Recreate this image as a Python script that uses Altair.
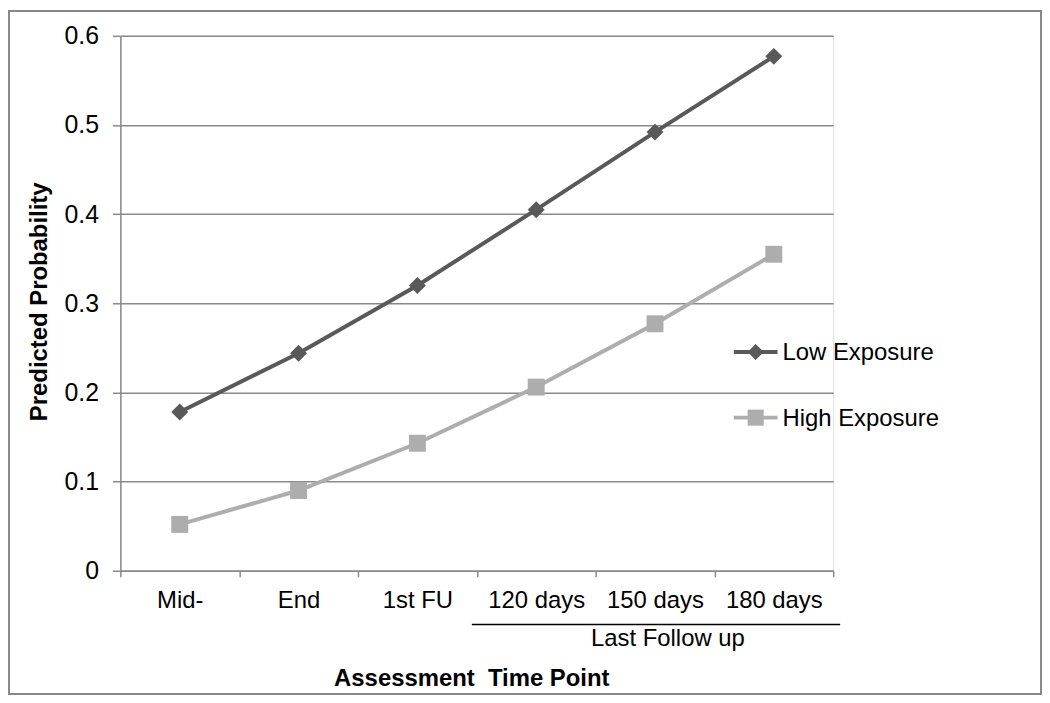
import altair as alt
import pandas as pd

timepoints = ["Mid-", "End", "1st FU", "120 days", "150 days", "180 days"]
low_exposure = [0.178, 0.244, 0.320, 0.405, 0.492, 0.577]
high_exposure = [0.052, 0.090, 0.143, 0.206, 0.277, 0.355]
series = ["Low Exposure", "High Exposure"]
colors = ["#595959", "#ADADAD"]
shapes = ["diamond", "square"]
y_ticks = [0, 0.1, 0.2, 0.3, 0.4, 0.5, 0.6]
group_label = ["Last Follow up"]
group_members = ["120 days", "180 days"]
group_center = ["150 days"]

rows = []
for s, vals in zip(series, [low_exposure, high_exposure]):
    for t, v in zip(timepoints, vals):
        rows.append({"time": t, "prob": v, "series": s})
df = pd.DataFrame(rows)

FONT = "Liberation Sans"
GRID = "#8a8a8a"

x_scale = alt.Scale(type="band", domain=timepoints, paddingInner=0, paddingOuter=0)
y_scale = alt.Scale(domain=[0, 0.6], nice=False, zero=True)
color_scale = alt.Scale(domain=series, range=colors)
shape_scale = alt.Scale(domain=series, range=shapes)

x_axis = alt.Axis(
    title="Assessment\u00a0\u00a0Time Point", tickBand="extent", labelAngle=0,
    labelFontSize=24, labelFont=FONT, labelColor="#000000", labelPadding=12,
    tickSize=6, tickColor=GRID, tickWidth=1.5, domainColor=GRID, domainWidth=1.5,
    grid=False, titleFont=FONT, titleFontSize=24, titleFontWeight="bold",
    titleColor="#000000", titleX=353, titleY=115, titleBaseline="alphabetic",
    titleAlign="center",
)
x_enc = alt.X("time:N", sort=timepoints, scale=x_scale, bandPosition=0.5, axis=x_axis)
y_enc = alt.Y(
    "prob:Q", scale=y_scale,
    axis=alt.Axis(
        title="Predicted Probability", values=y_ticks, format=".1~f",
        labelFontSize=25, labelFont=FONT, labelColor="#000000", labelPadding=14,
        tickSize=8, tickColor=GRID, tickWidth=1.5, domainColor=GRID, domainWidth=1.5,
        grid=True, gridColor=GRID, gridWidth=1.5,
        titleFont=FONT, titleFontSize=24, titleFontWeight="bold", titleColor="#000000",
        titleAngle=270, titleX=-81, titleY=267, titleBaseline="middle", titleAlign="center",
    ),
)

base = alt.Chart(df)

lines = base.mark_line(strokeWidth=4).encode(
    x=x_enc, y=y_enc,
    color=alt.Color("series:N", scale=color_scale, legend=None),
    detail="series:N",
)
points = base.mark_point(filled=True, size=290, opacity=1).encode(
    x=x_enc, y=y_enc,
    color=alt.Color("series:N", scale=color_scale, legend=None),
    shape=alt.Shape("series:N", scale=shape_scale, legend=None),
)

grp_rule_df = pd.DataFrame({"time": [group_members[0]], "time_end": [group_members[1]]})
grp_rule = alt.Chart(grp_rule_df).mark_rule(color="#000000", strokeWidth=1.5, xOffset=-5, x2Offset=7).encode(
    x=alt.X("time:N", scale=x_scale, bandPosition=0, axis=x_axis),
    x2=alt.X2("time_end:N", bandPosition=1),
    y=alt.value(592),
)
grp_text_df = pd.DataFrame({"time": group_center, "label": group_label})
grp_text = alt.Chart(grp_text_df).mark_text(
    font=FONT, fontSize=24, color="#000000", baseline="alphabetic", dx=13
).encode(
    x=alt.X("time:N", scale=x_scale, bandPosition=0.5, axis=x_axis),
    y=alt.value(614),
    text="label:N",
)

# manual legend (layout positions in pixels)
legend_layers = []
LEG_X0, LEG_X1, LEG_TEXT_X = 617, 661, 666
LEG_Y = [318, 384]
for name, col, shp, ly in zip(series, colors, shapes, LEG_Y):
    ldf = pd.DataFrame({"label": [name]})
    lb = alt.Chart(ldf)
    legend_layers.append(
        lb.mark_rule(strokeWidth=4, color=col).encode(
            x=alt.value(LEG_X0), x2=alt.value(LEG_X1), y=alt.value(ly)
        )
    )
    legend_layers.append(
        lb.mark_point(filled=True, opacity=1, size=260, color=col, shape=shp).encode(
            x=alt.value((LEG_X0 + LEG_X1) / 2), y=alt.value(ly)
        )
    )
    legend_layers.append(
        lb.mark_text(font=FONT, fontSize=24, color="#000000", align="left", baseline="middle").encode(
            x=alt.value(LEG_TEXT_X), y=alt.value(ly + 1), text="label:N"
        )
    )

frame = alt.Chart(pd.DataFrame({"a": [0]})).mark_rect(
    filled=False, stroke="#888888", strokeWidth=2, clip=False
).encode(
    x=alt.value(-112), x2=alt.value(926), y=alt.value(-25), y2=alt.value(662)
)

chart = alt.layer(lines, points, grp_rule, grp_text, *legend_layers, frame).properties(
    width=717, height=538,
    autosize=alt.AutoSizeParams(type="none"),
    padding={"left": 113, "top": 26, "right": 210, "bottom": 126},
).configure_view(stroke=None).configure(background="#ffffff")

chart.save("out.html", embed_options={"renderer": "svg", "actions": False})
